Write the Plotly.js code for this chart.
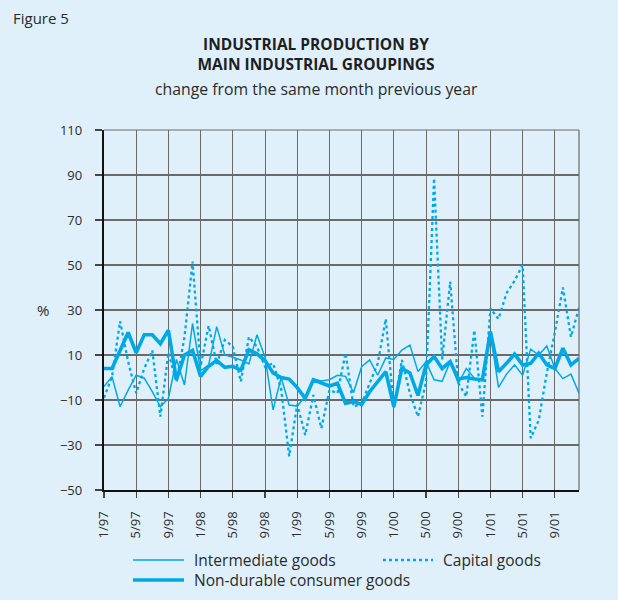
<!DOCTYPE html>
<html>
<head>
<meta charset="utf-8">
<script src="https://cdn.plot.ly/plotly-3.0.1.min.js"></script>
<style>
html,body{margin:0;padding:0;background:#dff0fa;}
#chart{width:618px;height:600px;}
</style>
</head>
<body>
<div id="chart"></div>
<script>
const months = ['1/97','2/97','3/97','4/97','5/97','6/97','7/97','8/97','9/97','10/97','11/97','12/97',
 '1/98','2/98','3/98','4/98','5/98','6/98','7/98','8/98','9/98','10/98','11/98','12/98',
 '1/99','2/99','3/99','4/99','5/99','6/99','7/99','8/99','9/99','10/99','11/99','12/99',
 '1/00','2/00','3/00','4/00','5/00','6/00','7/00','8/00','9/00','10/00','11/00','12/00',
 '1/01','2/01','3/01','4/01','5/01','6/01','7/01','8/01','9/01','10/01','11/01','12/01'];

const tickLabels = ['1/97','5/97','9/97','1/98','5/98','9/98','1/99','5/99','9/99','1/00','5/00','9/00','1/01','5/01','9/01'];

const intermediate = [-4, 0.4, -13, -5.6, 1, -0.3, -6.3, -13, -9.3, 8, -3.3, 24,
 3, 5.6, 22.6, 10, 9, 7.8, 6, 19, 9, -14.4, 0, -12.2,
 -12.7, -8.5, -0.7, -1.5, -1, 1, 0.5, -6.7, 4.8, 7.8, 1, 8.7,
 8, 12.2, 14.4, 2.6, 7, -1, -1.7, 7, -2.6, 4, -0.3, -1,
 19.7, -4.4, 1.5, 5.6, 1, 12.6, 10, 14, 4, -0.5, 1.5, -7];

const capital = [-9, 0.4, 25, 7, -7, 4, 12, -17.4, 11, -2, 18, 51.5,
 5, 23, 6, 16.7, 13.7, -1.8, 18, 13.7, 4.8, 6.3, -5, -35,
 -12, -25.6, -7.8, -22.6, -5.6, -7, 10.8, -13, -11.5, -2.5, 6.3, 26,
 -13.7, 7.8, -7, -17.4, -2, 88.5, 8, 42.6, -2.5, -8.5, 21, -17.4,
 30.7, 26, 37.5, 43, 50, -27, -19, 2, 20, 40, 18, 31];

const nondurable = [4, 4, 12, 20, 11, 19, 19, 15, 21, -1, 10, 12,
 0.5, 5, 7.5, 4.5, 5, 3.3, 12.3, 10.5, 7.5, 2, 0, -0.7,
 -4.5, -9.3, -1, -2.6, -3.8, -2.6, -11.5, -10.7, -12, -6.3, -1.8, 2.6,
 -13, 4, 2, -8, 5.6, 9.3, 4, 7, -0.7, 0, -0.7, -1,
 20.4, 2.6, 6.3, 10.4, 5.6, 6.3, 10.8, 5.6, 4, 13, 5.6, 8.5];

const seriesNames = ['Intermediate goods', 'Capital goods', 'Non-durable consumer goods'];

const blue = '#00a9e6';
const font = 'Open Sans, Liberation Sans, sans-serif';
const textCol = '#2b2b2b';
const gridCol = '#6a6a6a';

const traces = [
  {x: months, y: intermediate, name: seriesNames[0], type: 'scatter', mode: 'lines',
   line: {color: blue, width: 1.5}},
  {x: months, y: capital, name: seriesNames[1], type: 'scatter', mode: 'lines',
   line: {color: blue, width: 2.3, dash: 'dot'}},
  {x: months, y: nondurable, name: seriesNames[2], type: 'scatter', mode: 'lines',
   line: {color: blue, width: 3.6}}
];

// layout helpers (pixel -> paper)
const L = 104, R = 579, T = 130, B = 490;
const px = v => (v - L) / (R - L);
const py = v => (B - v) / (B - T);

const legendShapes = [
  {type: 'line', xref: 'paper', yref: 'paper', x0: px(133), x1: px(184), y0: py(560), y1: py(560),
   line: {color: blue, width: 1.5}},
  {type: 'line', xref: 'paper', yref: 'paper', x0: px(383), x1: px(433), y0: py(560), y1: py(560),
   line: {color: blue, width: 2.3, dash: 'dot'}},
  {type: 'line', xref: 'paper', yref: 'paper', x0: px(133), x1: px(184), y0: py(580), y1: py(580),
   line: {color: blue, width: 3.6}},
  // right & top border
  {type: 'line', xref: 'paper', yref: 'paper', x0: 1, x1: 1, y0: 0, y1: 1,
   line: {color: gridCol, width: 1.2}},
  {type: 'line', xref: 'paper', yref: 'paper', x0: 0, x1: 1, y0: 1, y1: 1,
   line: {color: gridCol, width: 1.2}}
];

const annotations = [
  {text: 'Figure 5', xref: 'paper', yref: 'paper', x: px(11), y: py(18), xanchor: 'left', yanchor: 'middle',
   showarrow: false, font: {family: font, size: 15, color: textCol}},
  {text: 'change from the same month previous year', xref: 'paper', yref: 'paper', x: px(316), y: py(89),
   xanchor: 'center', yanchor: 'middle', showarrow: false, font: {family: font, size: 15.8, color: textCol}},
  {text: '%', xref: 'paper', yref: 'paper', x: px(43), y: py(310), xanchor: 'center', yanchor: 'middle',
   showarrow: false, font: {family: font, size: 15, color: textCol}},
  {text: seriesNames[0], xref: 'paper', yref: 'paper', x: px(192), y: py(560), xanchor: 'left', yanchor: 'middle',
   showarrow: false, font: {family: font, size: 15.5, color: textCol}},
  {text: seriesNames[1], xref: 'paper', yref: 'paper', x: px(441), y: py(560), xanchor: 'left', yanchor: 'middle',
   showarrow: false, font: {family: font, size: 15.5, color: textCol}},
  {text: seriesNames[2], xref: 'paper', yref: 'paper', x: px(192), y: py(580), xanchor: 'left', yanchor: 'middle',
   showarrow: false, font: {family: font, size: 15.5, color: textCol}}
];

const layout = {
  width: 618, height: 600,
  paper_bgcolor: '#dff0fa', plot_bgcolor: '#dff0fa',
  margin: {l: L, r: 618 - R, t: T, b: 600 - B},
  showlegend: false,
  font: {family: font, color: textCol},
  title: {text: '<b>INDUSTRIAL PRODUCTION BY<br>MAIN INDUSTRIAL GROUPINGS</b>',
    x: 316 / 618, xanchor: 'center', y: 1 - 50 / 600, yanchor: 'middle', yref: 'container',
    font: {family: font, size: 15.5, color: '#1f1f1f'}},
  xaxis: {
    type: 'category', range: [0, 59],
    tickmode: 'array', tickvals: tickLabels, ticktext: tickLabels,
    tickangle: -90, ticks: 'outside', ticklen: 6, tickwidth: 1.2, tickcolor: '#444',
    tickfont: {family: font, size: 13, color: textCol},
    showgrid: true, gridcolor: gridCol, gridwidth: 1,
    showline: true, linecolor: '#111', linewidth: 2.2,
    zeroline: false, fixedrange: true, ticklabelstandoff: 8
  },
  yaxis: {
    range: [-50, 110], tick0: -50, dtick: 20,
    ticks: 'outside', ticklen: 7, tickwidth: 1.2, tickcolor: '#444',
    tickfont: {family: font, size: 13, color: textCol},
    showgrid: true, gridcolor: gridCol, gridwidth: 1.2,
    showline: true, linecolor: '#111', linewidth: 2.2,
    zeroline: false, fixedrange: true, ticklabelstandoff: 10
  },
  shapes: legendShapes,
  annotations: annotations
};

Plotly.newPlot('chart', traces, layout, {displayModeBar: false, staticPlot: true});
</script>
</body>
</html>
